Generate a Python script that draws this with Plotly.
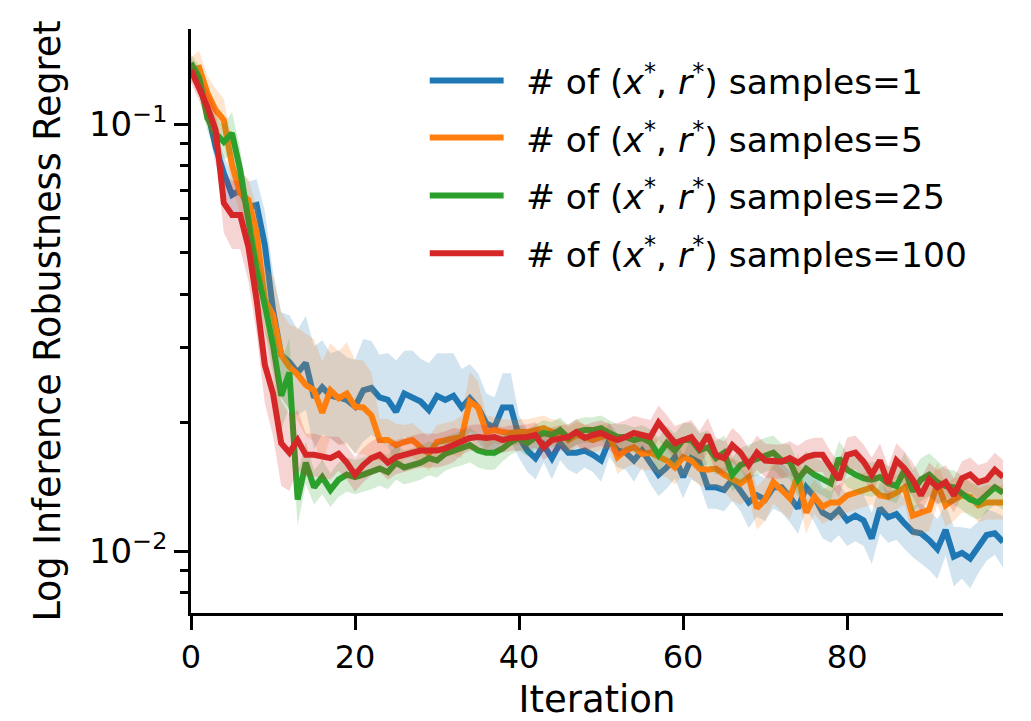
import plotly.graph_objects as go

iterations = list(range(100))

blue_mean = [0.134, 0.1236, 0.108, 0.0885, 0.0769, 0.0683, 0.0701, 0.0640, 0.0647, 0.0521,
             0.0367, 0.0288, 0.0277, 0.0262, 0.0276, 0.0229, 0.0242, 0.0231, 0.0229, 0.0226,
             0.0218, 0.0238, 0.0241, 0.0229, 0.0226, 0.0212, 0.0234, 0.0229, 0.0224, 0.0214,
             0.0231, 0.0226, 0.0231, 0.0217, 0.0228, 0.0217, 0.0199, 0.0195, 0.0217, 0.0217,
             0.0185, 0.0172, 0.0165, 0.0177, 0.0165, 0.0179, 0.0170, 0.0170, 0.0172, 0.0168,
             0.0163, 0.0182, 0.0172, 0.0170, 0.0163, 0.0172, 0.0161, 0.0151, 0.0157, 0.0166,
             0.0149, 0.0165, 0.0161, 0.0141, 0.0141, 0.0139, 0.0147, 0.0139, 0.0130, 0.0135,
             0.0132, 0.0141, 0.0141, 0.0134, 0.0126, 0.0141, 0.0134, 0.0123, 0.0120, 0.0125,
             0.0118, 0.0121, 0.0118, 0.0107, 0.0126, 0.0120, 0.0122, 0.0116, 0.0111, 0.0110,
             0.0106, 0.0101, 0.0112, 0.0097, 0.0099, 0.0096, 0.0102, 0.0109, 0.0110, 0.0105]

orange_mean = [0.134, 0.1356, 0.1184, 0.108, 0.1023, 0.0803, 0.0690, 0.0665, 0.0557, 0.0388,
               0.0357, 0.0288, 0.0270, 0.0259, 0.0245, 0.0238, 0.0211, 0.0238, 0.0228, 0.0234,
               0.0218, 0.0217, 0.0208, 0.0182, 0.0182, 0.0177, 0.0180, 0.0182, 0.0175, 0.0169,
               0.0180, 0.0182, 0.0184, 0.0185, 0.0224, 0.0217, 0.0190, 0.0192, 0.0190, 0.0189,
               0.0190, 0.0190, 0.0192, 0.0194, 0.0190, 0.0189, 0.0182, 0.0187, 0.0185, 0.0182,
               0.0185, 0.0187, 0.0166, 0.0172, 0.0175, 0.0169, 0.0170, 0.0166, 0.0163, 0.0157,
               0.0166, 0.0163, 0.0156, 0.0155, 0.0156, 0.0151, 0.0147, 0.0144, 0.0149, 0.0126,
               0.0132, 0.0145, 0.0139, 0.0133, 0.0151, 0.0123, 0.0134, 0.0127, 0.0130, 0.0130,
               0.0135, 0.0137, 0.0139, 0.0141, 0.0135, 0.0134, 0.0137, 0.0141, 0.0121, 0.0123,
               0.0125, 0.0144, 0.0128, 0.0132, 0.0135, 0.0134, 0.0128, 0.0130, 0.0130, 0.0130]

green_mean = [0.1392, 0.1283, 0.1034, 0.0953, 0.0909, 0.0953, 0.0781, 0.0581, 0.0456, 0.0377,
              0.0304, 0.0231, 0.0262, 0.0132, 0.0161, 0.0141, 0.0149, 0.0139, 0.0147, 0.0151,
              0.0149, 0.0151, 0.0153, 0.0156, 0.0153, 0.0161, 0.0157, 0.0159, 0.0161, 0.0165,
              0.0163, 0.0169, 0.0172, 0.0174, 0.0177, 0.0172, 0.0170, 0.0170, 0.0174, 0.0180,
              0.0184, 0.0179, 0.0185, 0.0189, 0.0187, 0.0192, 0.0184, 0.0190, 0.0192, 0.0192,
              0.0194, 0.0189, 0.0185, 0.0185, 0.0182, 0.0184, 0.0180, 0.0168, 0.0179, 0.0172,
              0.0182, 0.0182, 0.0172, 0.0175, 0.0165, 0.0170, 0.0151, 0.0159, 0.0162, 0.0165,
              0.0168, 0.0170, 0.0163, 0.0162, 0.0147, 0.0156, 0.0151, 0.0148, 0.0144, 0.0165,
              0.0155, 0.0151, 0.0148, 0.0147, 0.0149, 0.0144, 0.0142, 0.0155, 0.0138, 0.0147,
              0.0151, 0.0145, 0.0142, 0.0141, 0.0137, 0.0132, 0.0130, 0.0135, 0.0141, 0.0137]

red_mean = [0.134, 0.1217, 0.1098, 0.0970, 0.0654, 0.0613, 0.0613, 0.0516, 0.0388, 0.0273,
            0.0234, 0.0179, 0.0170, 0.0182, 0.0168, 0.0168, 0.0166, 0.0165, 0.0169, 0.0161,
            0.0151, 0.0159, 0.0165, 0.0168, 0.0161, 0.0166, 0.0168, 0.0170, 0.0172, 0.0172,
            0.0172, 0.0174, 0.0177, 0.0180, 0.0184, 0.0185, 0.0184, 0.0185, 0.0182, 0.0184,
            0.0184, 0.0185, 0.0187, 0.0175, 0.0182, 0.0184, 0.0185, 0.0190, 0.0184, 0.0187,
            0.0189, 0.0185, 0.0182, 0.0185, 0.0189, 0.0187, 0.0185, 0.0200, 0.0190, 0.0179,
            0.0182, 0.0185, 0.0174, 0.0187, 0.0168, 0.0165, 0.0177, 0.0170, 0.0159, 0.0170,
            0.0163, 0.0162, 0.0162, 0.0165, 0.0161, 0.0166, 0.0168, 0.0168, 0.0156, 0.0147,
            0.0168, 0.0170, 0.0162, 0.0151, 0.0163, 0.0144, 0.0163, 0.0156, 0.0147, 0.0135,
            0.0147, 0.0141, 0.0145, 0.0135, 0.0148, 0.0151, 0.0145, 0.0147, 0.0155, 0.0149]

# half-width of the shaded band, in decades (log10 units)
blue_spread = [0.02, 0.02, 0.03, 0.04, 0.04, 0.05, 0.05, 0.06, 0.06, 0.08,
               0.09, 0.10, 0.11, 0.10, 0.11, 0.12, 0.11, 0.10, 0.11, 0.10,
               0.11, 0.12, 0.11, 0.10, 0.11, 0.12, 0.10, 0.11, 0.10, 0.11,
               0.10, 0.11, 0.10, 0.09, 0.08, 0.08, 0.07, 0.07, 0.08, 0.08,
               0.05, 0.05, 0.05, 0.04, 0.05, 0.04, 0.04, 0.05, 0.04, 0.04,
               0.05, 0.04, 0.04, 0.04, 0.05, 0.04, 0.05, 0.05, 0.05, 0.05,
               0.05, 0.05, 0.05, 0.05, 0.05, 0.05, 0.05, 0.05, 0.06, 0.05,
               0.05, 0.05, 0.06, 0.06, 0.06, 0.05, 0.06, 0.06, 0.06, 0.06,
               0.06, 0.06, 0.06, 0.06, 0.06, 0.06, 0.06, 0.06, 0.06, 0.07,
               0.07, 0.07, 0.06, 0.07, 0.06, 0.07, 0.06, 0.06, 0.05, 0.06]

orange_spread = [0.03, 0.04, 0.04, 0.05, 0.05, 0.05, 0.05, 0.05, 0.06, 0.08,
                 0.09, 0.10, 0.10, 0.11, 0.12, 0.12, 0.12, 0.11, 0.11, 0.12,
                 0.11, 0.11, 0.10, 0.05, 0.05, 0.05, 0.04, 0.04, 0.04, 0.04,
                 0.04, 0.04, 0.04, 0.05, 0.07, 0.06, 0.04, 0.03, 0.03, 0.03,
                 0.03, 0.03, 0.03, 0.03, 0.03, 0.03, 0.03, 0.03, 0.03, 0.03,
                 0.03, 0.03, 0.04, 0.04, 0.04, 0.04, 0.04, 0.04, 0.04, 0.04,
                 0.04, 0.04, 0.04, 0.04, 0.04, 0.04, 0.05, 0.05, 0.05, 0.05,
                 0.05, 0.05, 0.05, 0.05, 0.05, 0.05, 0.04, 0.04, 0.04, 0.04,
                 0.04, 0.04, 0.04, 0.04, 0.04, 0.04, 0.04, 0.04, 0.05, 0.05,
                 0.05, 0.05, 0.05, 0.05, 0.04, 0.04, 0.04, 0.04, 0.04, 0.04]

green_spread = [0.02, 0.03, 0.03, 0.04, 0.04, 0.05, 0.05, 0.05, 0.05, 0.06,
                0.07, 0.08, 0.08, 0.06, 0.05, 0.04, 0.04, 0.04, 0.04, 0.04,
                0.04, 0.04, 0.04, 0.04, 0.04, 0.04, 0.04, 0.04, 0.04, 0.04,
                0.04, 0.04, 0.04, 0.04, 0.04, 0.04, 0.04, 0.04, 0.03, 0.03,
                0.03, 0.03, 0.03, 0.03, 0.03, 0.03, 0.03, 0.03, 0.03, 0.03,
                0.03, 0.03, 0.03, 0.03, 0.03, 0.03, 0.03, 0.04, 0.04, 0.04,
                0.04, 0.04, 0.04, 0.04, 0.04, 0.04, 0.04, 0.04, 0.04, 0.04,
                0.04, 0.04, 0.04, 0.04, 0.04, 0.04, 0.04, 0.04, 0.04, 0.04,
                0.04, 0.04, 0.04, 0.04, 0.04, 0.04, 0.04, 0.04, 0.05, 0.05,
                0.05, 0.05, 0.04, 0.04, 0.04, 0.04, 0.04, 0.04, 0.04, 0.04]

red_spread = [0.03, 0.03, 0.04, 0.05, 0.07, 0.08, 0.08, 0.08, 0.08, 0.09,
              0.10, 0.10, 0.09, 0.07, 0.05, 0.05, 0.05, 0.05, 0.04, 0.04,
              0.04, 0.04, 0.04, 0.04, 0.04, 0.04, 0.04, 0.04, 0.04, 0.04,
              0.04, 0.04, 0.04, 0.03, 0.03, 0.03, 0.03, 0.03, 0.03, 0.03,
              0.03, 0.03, 0.03, 0.03, 0.03, 0.03, 0.03, 0.03, 0.03, 0.03,
              0.03, 0.03, 0.04, 0.04, 0.04, 0.04, 0.04, 0.04, 0.04, 0.04,
              0.04, 0.04, 0.04, 0.04, 0.04, 0.04, 0.04, 0.04, 0.04, 0.04,
              0.04, 0.04, 0.04, 0.04, 0.04, 0.04, 0.04, 0.04, 0.04, 0.04,
              0.04, 0.04, 0.04, 0.04, 0.04, 0.04, 0.04, 0.04, 0.04, 0.04,
              0.04, 0.04, 0.04, 0.04, 0.04, 0.04, 0.04, 0.04, 0.04, 0.04]

series_labels = ["1", "5", "25", "100"]
colors = ["#1f77b4", "#ff7f0e", "#2ca02c", "#d62728"]
fills = ["rgba(31,119,180,0.2)", "rgba(255,127,14,0.2)", "rgba(44,160,44,0.2)", "rgba(214,39,40,0.2)"]

x_tickvals = [0, 20, 40, 60, 80]
y_tickvals = [0.01, 0.1]
y_ticktext = ["10<sup>\u22122</sup>", "10<sup>\u22121</sup>"]
y_minor = [0.008, 0.009, 0.02, 0.03, 0.04, 0.05, 0.06, 0.07, 0.08, 0.09]

FONT = "DejaVu Sans"
LW = 6

fig = go.Figure()
all_means = [blue_mean, orange_mean, green_mean, red_mean]
all_spreads = [blue_spread, orange_spread, green_spread, red_spread]
for mean, spread, col, fc, lab in zip(all_means, all_spreads, colors, fills, series_labels):
    upper = [m * 10 ** s for m, s in zip(mean, spread)]
    lower = [m / 10 ** s for m, s in zip(mean, spread)]
    fig.add_trace(go.Scatter(x=iterations + iterations[::-1], y=upper + lower[::-1],
                             fill="toself", fillcolor=fc, line=dict(width=0),
                             mode="lines", hoverinfo="skip", showlegend=False))
    fig.add_trace(go.Scatter(x=iterations, y=mean, mode="lines",
                             line=dict(color=col, width=LW),
                             name="# of (x*, r*) samples=" + lab, showlegend=False))

# legend drawn by hand (long handles like the reference)
leg_y = [0.912, 0.814, 0.715, 0.616]
shapes = []
annotations = []
for yy, col, lab in zip(leg_y, colors, series_labels):
    shapes.append(dict(type="line", xref="paper", yref="paper", x0=0.294, x1=0.385,
                       y0=yy, y1=yy, line=dict(color=col, width=LW)))
    annotations.append(dict(xref="paper", yref="paper", x=0.41, y=yy, xanchor="left",
                            yanchor="middle", showarrow=False,
                            text="# of (<i>x</i><sup>*</sup>, <i>r</i><sup>*</sup>) samples=" + lab,
                            font=dict(family=FONT, size=34.5, color="black")))

fig.update_layout(
    width=1031, height=721,
    margin=dict(l=191, r=28, t=29, b=108),
    plot_bgcolor="white", paper_bgcolor="white",
    font=dict(family=FONT, size=33, color="black"),
    shapes=shapes, annotations=annotations,
    showlegend=False,
)
fig.update_xaxes(range=[0, 99], tickvals=x_tickvals, ticks="outside", ticklen=14, tickwidth=2.7,
                 tickcolor="black", showline=True, linewidth=2.7, linecolor="black",
                 showgrid=False, zeroline=False, tickfont=dict(size=32), automargin=False,
                 title=dict(text="Iteration", font=dict(size=37), standoff=14))
fig.update_yaxes(type="log", range=[-2.1453, -0.7767], tickvals=y_tickvals, ticktext=y_ticktext,
                 ticks="outside", ticklen=14, tickwidth=2.7, tickcolor="black",
                 showline=True, linewidth=2.7, linecolor="black", showgrid=False, zeroline=False,
                 tickfont=dict(size=34), automargin=False,
                 minor=dict(tickvals=y_minor, ticks="outside", ticklen=8, tickwidth=2.7,
                            tickcolor="black", showgrid=False),
                 title=dict(text="Log Inference Robustness Regret", font=dict(size=36.5), standoff=18))

fig.write_html("out.html")
